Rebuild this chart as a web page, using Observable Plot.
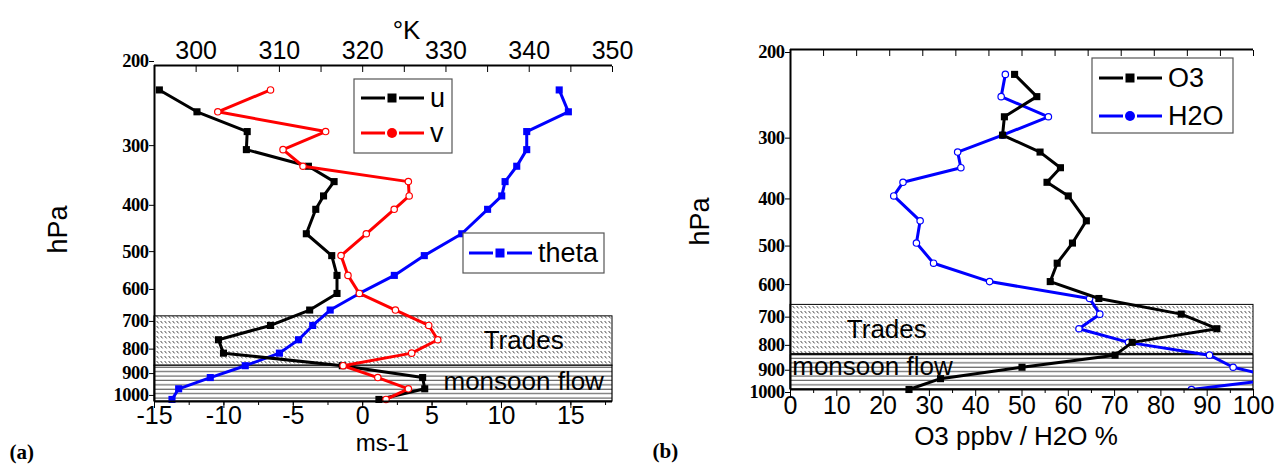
<!DOCTYPE html>
<html><head><meta charset="utf-8">
<script src="https://cdn.jsdelivr.net/npm/d3@7"></script>
<script src="https://cdn.jsdelivr.net/npm/@observablehq/plot@0.6"></script>
<style>
body{margin:0;background:#fff;}
#wrap{position:relative;width:1277px;height:464px;overflow:hidden;font-family:"Liberation Sans",Arial,sans-serif;}
#pa{position:absolute;left:0;top:0;}
#pb{position:absolute;left:640px;top:0;}
svg{overflow:visible;}
</style></head><body><div id="wrap"><div id="pa"></div><div id="pb"></div></div>
<script>
// ---- data ----
const levels = [225,250,275,300,325,350,375,400,450,500,550,600,650,700,750,800,850,900,950,1000];
const uWind  = [-14.65,-11.94,-8.32,-8.38,-3.91,-2.06,-2.82,-3.38,-4.06,-2.23,-1.85,-1.85,-3.82,-6.64,-10.39,-10.03,-1.47,4.32,4.47,1.17];
const vWind  = [-6.64,-10.44,-2.67,-5.74,-4.30,3.29,3.35,2.27,0.26,-1.56,-1.06,-0.24,2.36,4.76,5.41,3.53,-1.41,1.09,3.29,1.68];
const theta  = [343.6,344.7,339.7,339.7,338.5,337.1,336.7,335.0,331.9,327.4,323.8,319.6,316.1,314.0,312.3,310.0,305.9,301.7,297.9,297.1];
const o3     = [48.4,53.2,46.2,45.8,53.9,58.3,55.4,60.0,63.9,60.9,57.6,56.1,66.6,84.4,92.1,73.8,70.1,50.0,32.4,25.6];
const h2o    = [46.4,45.5,55.7,45.8,36.1,36.8,24.3,22.3,28.0,27.2,30.9,43.0,64.6,66.8,62.3,73.0,90.5,95.6,106,86.6];
const pressureTicks = [200,300,400,500,600,700,800,900,1000];
const windTicks = [-15,-10,-5,0,5,10,15];
const windMinor = [-15,-12.5,-10,-7.5,-5,-2.5,0,2.5,5,7.5,10,12.5,15,17.5];
const thetaTicks = [300,310,320,330,340,350];
const thetaMinor = [295,300,305,310,315,320,325,330,335,340,345,350];
const chemTicks = [0,10,20,30,40,50,60,70,80,90,100];
const chemMinor = [5,15,25,35,45,55,65,75,85,95];
const tradesLayer = [670, 850];
const monsoonLayer = [850, 1010];

const rowsA = levels.map((p,i)=>({p, u:uWind[i], v:vWind[i], th:theta[i]}));
const rowsB = levels.map((p,i)=>({p, o3:o3[i], h2o:h2o[i]}));

// theta shares the wind x scale through a linear mapping of the top axis
const W0=-15, W1=18, K0=295, K1=350;
const k2w = k => W0 + (k-K0)*(W1-W0)/(K1-K0);

const sans = "Liberation Sans, Arial, sans-serif";
const serif = "Liberation Serif, Times New Roman, serif";

function addPatterns(svg, id){
  const defs = d3.select(svg).insert("defs", ":first-child");
  const t = defs.append("pattern").attr("id","tr"+id).attr("patternUnits","userSpaceOnUse")
    .attr("width",4).attr("height",5);
  t.append("rect").attr("width",4).attr("height",5).attr("fill","#fff");
  t.append("line").attr("x1",0.6).attr("y1",1).attr("x2",2.6).attr("y2",3.4)
    .attr("stroke","#333").attr("stroke-width",0.9);
  const m = defs.append("pattern").attr("id","ms"+id).attr("patternUnits","userSpaceOnUse")
    .attr("width",10).attr("height",4.4);
  m.append("rect").attr("width",10).attr("height",4.4).attr("fill","#fff");
  m.append("line").attr("x1",0).attr("y1",2).attr("x2",10).attr("y2",2)
    .attr("stroke","#444").attr("stroke-width",1);
}

function styleAxes(svg){
  d3.select(svg).selectAll('g[aria-label="y-axis tick label"] text')
    .style("font-size","18.5px").style("font-weight","bold").style("font-family",serif).style("letter-spacing","-0.5px");
}

function legend(svg, box, items){
  const g = d3.select(svg).append("g");
  g.append("rect").attr("x",box.x).attr("y",box.y).attr("width",box.w).attr("height",box.h)
    .attr("fill","#fff").attr("stroke","#555").attr("stroke-width",1.2);
  items.forEach(it=>{
    g.append("line").attr("x1",it.x).attr("x2",it.x+24).attr("y1",it.y).attr("y2",it.y)
      .attr("stroke",it.color).attr("stroke-width",3);
    g.append("line").attr("x1",it.x+38).attr("x2",it.x+63).attr("y1",it.y).attr("y2",it.y)
      .attr("stroke",it.color).attr("stroke-width",3);
    if(it.sym==="square") g.append("rect").attr("x",it.x+26.5).attr("y",it.y-4.5).attr("width",9).attr("height",9).attr("fill",it.color);
    else g.append("circle").attr("cx",it.x+31).attr("cy",it.y).attr("r",5).attr("fill",it.color);
    g.append("text").attr("x",it.x+69).attr("y",it.y).attr("dy","0.35em").attr("text-anchor","start")
      .style("font-family",sans).style("font-size","27px").text(it.label);
  });
}

// ---- panel (a) ----
const plotA = Plot.plot({
  width: 640, height: 464,
  marginLeft: 154, marginRight: 28, marginTop: 65, marginBottom: 63,
  style: {background:"transparent", overflow:"visible"},
  x: {domain:[W0,W1], axis:null},
  y: {type:"log", domain:[200,1010], reverse:true, axis:null},
  marks: [
    Plot.rect([tradesLayer], {x1:W0, x2:W1, y1:d=>d[0], y2:d=>d[1], fill:"url(#tra)", stroke:"#000", strokeWidth:1}),
    Plot.rect([monsoonLayer], {x1:W0, x2:W1, y1:d=>d[0], y2:d=>d[1], fill:"url(#msa)", stroke:"#000", strokeWidth:1.2}),
    Plot.text(["Trades"], {x:11.6, y:752, fontSize:26, fontFamily:sans, fill:"#000"}),
    Plot.text(["monsoon flow"], {x:11.6, y:920, fontSize:26, fontFamily:sans, fill:"#000"}),
    Plot.line(rowsA, {x:d=>k2w(d.th), y:"p", stroke:"#0000ff", strokeWidth:3}),
    Plot.dot(rowsA, {x:d=>k2w(d.th), y:"p", symbol:"square", r:4, fill:"#0000ff"}),
    Plot.line(rowsA, {x:"u", y:"p", stroke:"#000", strokeWidth:3}),
    Plot.dot(rowsA, {x:"u", y:"p", symbol:"square", r:4, fill:"#000"}),
    Plot.line(rowsA, {x:"v", y:"p", stroke:"#ff0000", strokeWidth:3}),
    Plot.dot(rowsA, {x:"v", y:"p", r:3.2, fill:"#fff", stroke:"#ff0000", strokeWidth:1.2}),
    Plot.ruleX([W0], {y1:200, y2:1010, strokeWidth:2}),
    Plot.ruleY([200,1010], {x1:W0, x2:W1, strokeWidth:2}),
    Plot.axisY({anchor:"left", ticks:pressureTicks, tickSize:5, tickPadding:1, dy:-4, tickFormat:d=>String(d), label:null}),
    Plot.axisX({anchor:"bottom", ticks:windMinor, tickSize:4, tickFormat:()=>"", label:null}),
    Plot.axisX({anchor:"bottom", ticks:windTicks, tickSize:7, tickFormat:()=>"", label:null}),
    Plot.text(windTicks, {x:d=>d, text:d=>String(d), frameAnchor:"bottom", dy:22, fontSize:25, fontFamily:sans}),
    Plot.axisX({anchor:"top", ticks:thetaMinor.map(k2w), tickSize:-6, tickFormat:()=>"", label:null}),
    Plot.text(thetaTicks, {x:d=>k2w(d), text:d=>String(d), frameAnchor:"top", dy:-24, fontSize:25, fontFamily:sans}),
    Plot.text(["hPa"], {frameAnchor:"left", dx:-96, dy:20, rotate:-90, fontSize:27, fontFamily:sans}),
    Plot.text(["°K"], {frameAnchor:"top", dx:23, dy:-45, fontSize:26, fontFamily:sans}),
    Plot.text(["ms-1"], {frameAnchor:"bottom", dx:-1, dy:49, fontSize:24, fontFamily:sans}),
    Plot.text(["(a)"], {frameAnchor:"bottom-left", dx:-145, dy:57, textAnchor:"start", fontSize:21, fontWeight:"bold", fontFamily:serif})
  ]
});
addPatterns(plotA, "a");
styleAxes(plotA);
legend(plotA, {x:354, y:79, w:98, h:74}, [
  {x:361, y:98, color:"#000", sym:"square", label:"u"},
  {x:361, y:133, color:"#ff0000", sym:"circle", label:"v"}
]);
legend(plotA, {x:463, y:233, w:141, h:40}, [
  {x:469, y:253, color:"#0000ff", sym:"square", label:"theta"}
]);
document.getElementById("pa").append(plotA);

// ---- panel (b) ----
const plotB = Plot.plot({
  width: 637, height: 464,
  marginLeft: 150, marginRight: 24, marginTop: 49, marginBottom: 75,
  style: {background:"transparent", overflow:"visible"},
  x: {domain:[0,100], axis:null},
  y: {type:"log", domain:[200,1000], reverse:true, axis:null},
  marks: [
    Plot.rect([tradesLayer], {x1:0, x2:100, y1:d=>d[0], y2:d=>Math.min(d[1],845), fill:"url(#trb)", stroke:"#000", strokeWidth:1}),
    Plot.rect([monsoonLayer], {x1:0, x2:100, y1:d=>d[0], y2:1000, fill:"url(#msb)", stroke:"#000", strokeWidth:1.2}),
    Plot.text(["Trades"], {x:20.8, y:752, fontSize:26, fontFamily:sans, fill:"#000"}),
    Plot.text(["monsoon flow"], {x:17.7, y:898, fontSize:26, fontFamily:sans, fill:"#000"}),
    Plot.line(rowsB, {x:"h2o", y:"p", stroke:"#0000ff", strokeWidth:3, clip:true}),
    Plot.dot(rowsB, {x:"h2o", y:"p", r:3.2, fill:"#fff", stroke:"#0000ff", strokeWidth:1.2, clip:true}),
    Plot.line(rowsB, {x:"o3", y:"p", stroke:"#000", strokeWidth:3}),
    Plot.dot(rowsB, {x:"o3", y:"p", symbol:"square", r:4, fill:"#000"}),
    Plot.ruleX([0], {y1:200, y2:1000, strokeWidth:2}),
    Plot.ruleY([200,1000], {x1:0, x2:100, strokeWidth:2}),
    Plot.axisY({anchor:"left", ticks:pressureTicks, tickSize:5, tickPadding:1, dy:3, tickFormat:d=>String(d), label:null}),
    Plot.axisX({anchor:"bottom", ticks:chemMinor, tickSize:4, tickFormat:()=>"", label:null}),
    Plot.axisX({anchor:"bottom", ticks:chemTicks, tickSize:7, tickFormat:()=>"", label:null}),
    Plot.text(chemTicks, {x:d=>d, text:d=>String(d), frameAnchor:"bottom", dy:24, fontSize:25, fontFamily:sans}),
    Plot.axisX({anchor:"top", ticks:d3.range(0,15).map(i=>i*100/14), tickSize:-6, tickFormat:()=>"", label:null}),
    Plot.text(["hPa"], {frameAnchor:"left", dx:-90, dy:26, rotate:-90, fontSize:27, fontFamily:sans}),
    Plot.text(["O3 ppbv / H2O %"], {frameAnchor:"bottom", dx:-6, dy:55, fontSize:26, fontFamily:sans}),
    Plot.text(["(b)"], {frameAnchor:"bottom-left", dx:-138, dy:68, textAnchor:"start", fontSize:21, fontWeight:"bold", fontFamily:serif})
  ]
});
addPatterns(plotB, "b");
styleAxes(plotB);
legend(plotB, {x:452, y:58, w:141, h:75}, [
  {x:459, y:78, color:"#000", sym:"square", label:"O3"},
  {x:459, y:116, color:"#0000ff", sym:"circle", label:"H2O"}
]);
document.getElementById("pb").append(plotB);
</script></body></html>
